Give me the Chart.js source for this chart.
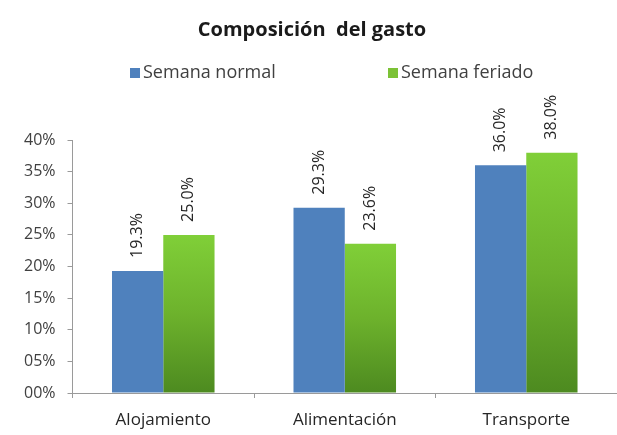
<!DOCTYPE html>
<html>
<head>
<meta charset="utf-8">
<script src="https://cdn.jsdelivr.net/npm/chart.js@4/dist/chart.umd.min.js"></script>
<style>
  html, body { margin: 0; padding: 0; background: #fff; }
  #wrap { width: 617px; height: 435px; }
</style>
</head>
<body>
<div id="wrap"><canvas id="chart" width="617" height="435"></canvas></div>
<script>
// ── Data ──────────────────────────────────────────────────────────────────────
const categories = ['Alojamiento', 'Alimentación', 'Transporte'];
const seriesNames = ['Semana normal', 'Semana feriado'];
const normalValues = [19.3, 29.3, 36.0];
const feriadoValues = [25.0, 23.6, 38.0];
const yTicks = [0, 5, 10, 15, 20, 25, 30, 35, 40];
const yTickLabels = ['00%', '05%', '10%', '15%', '20%', '25%', '30%', '35%', '40%'];

const FONT = '"Open Sans", sans-serif';
const BLUE = '#4f81bd';

// per-bar green gradient (light on top, darker at the base)
function greenFill(ctx) {
    const chart = ctx.chart;
    const y = chart.scales && chart.scales.y;
    if (!chart.chartArea || !y || ctx.raw === undefined) return '#6fb430';
    const top = y.getPixelForValue(ctx.raw);
    const bottom = y.getPixelForValue(0);
    const g = chart.ctx.createLinearGradient(0, top, 0, bottom);
    g.addColorStop(0, '#80cf38');
    g.addColorStop(0.5, '#6db22c');
    g.addColorStop(1, '#4d8a20');
    return g;
}

// ── Title + legend drawn above the plot ───────────────────────────────────────
const headerPlugin = {
    id: 'header',
    afterDraw(chart) {
        const c = chart.ctx;
        c.save();
        c.fillStyle = '#1a1a1a';
        c.font = 'bold 20px ' + FONT;
        c.textAlign = 'center';
        c.textBaseline = 'middle';
        c.fillText('Composición  del gasto', 312, 30);

        const items = [
            { x: 130, color: BLUE, text: seriesNames[0] },
            { x: 388, color: '#7cc236', text: seriesNames[1] }
        ];
        c.font = '18px ' + FONT;
        c.textAlign = 'left';
        items.forEach(it => {
            c.fillStyle = it.color;
            c.fillRect(it.x, 68, 10, 10);
            c.fillStyle = '#404040';
            c.fillText(it.text, it.x + 13, 73);
        });
        c.restore();
    }
};

// ── Rotated value labels above each bar ───────────────────────────────────────
const valueLabels = {
    id: 'valueLabels',
    afterDatasetsDraw(chart) {
        const c = chart.ctx;
        c.save();
        c.font = '16px ' + FONT;
        c.fillStyle = '#262626';
        c.textAlign = 'left';
        c.textBaseline = 'middle';
        chart.data.datasets.forEach((ds, i) => {
            chart.getDatasetMeta(i).data.forEach((bar, j) => {
                c.save();
                c.translate(bar.x, bar.y - 13);
                c.rotate(-Math.PI / 2);
                c.fillText(ds.data[j].toFixed(1) + '%', 0, 0);
                c.restore();
            });
        });
        c.restore();
    }
};

new Chart(document.getElementById('chart'), {
    type: 'bar',
    data: {
        labels: categories,
        datasets: [
            { label: seriesNames[0], data: normalValues, backgroundColor: BLUE },
            { label: seriesNames[1], data: feriadoValues, backgroundColor: greenFill }
        ]
    },
    options: {
        responsive: false,
        animation: false,
        layout: { padding: { top: 140, right: 0, left: 12, bottom: 0 } },
        plugins: {
            legend: { display: false },
            title: { display: false },
            tooltip: { enabled: false }
        },
        datasets: {
            bar: { barPercentage: 1, categoryPercentage: 0.565 }
        },
        scales: {
            x: {
                afterFit(scale) { scale.height = 42; },
                grid: {
                    display: true,
                    drawOnChartArea: false,
                    drawTicks: true,
                    tickLength: 5,
                    color: '#9a9a9a'
                },
                border: { display: true, color: '#9a9a9a' },
                ticks: {
                    color: '#262626',
                    font: { family: FONT, size: 17 },
                    padding: 12
                }
            },
            y: {
                min: 0,
                max: 40,
                afterBuildTicks(scale) {
                    scale.ticks = yTicks.map(v => ({ value: v }));
                },
                grid: {
                    display: true,
                    drawOnChartArea: false,
                    drawTicks: true,
                    tickLength: 5,
                    color: '#9a9a9a'
                },
                border: { display: true, color: '#9a9a9a' },
                ticks: {
                    color: '#404040',
                    font: { family: FONT, size: 16 },
                    padding: 12,
                    callback: (v, i) => yTickLabels[i]
                }
            }
        }
    },
    plugins: [headerPlugin, valueLabels]
});
</script>
</body>
</html>
